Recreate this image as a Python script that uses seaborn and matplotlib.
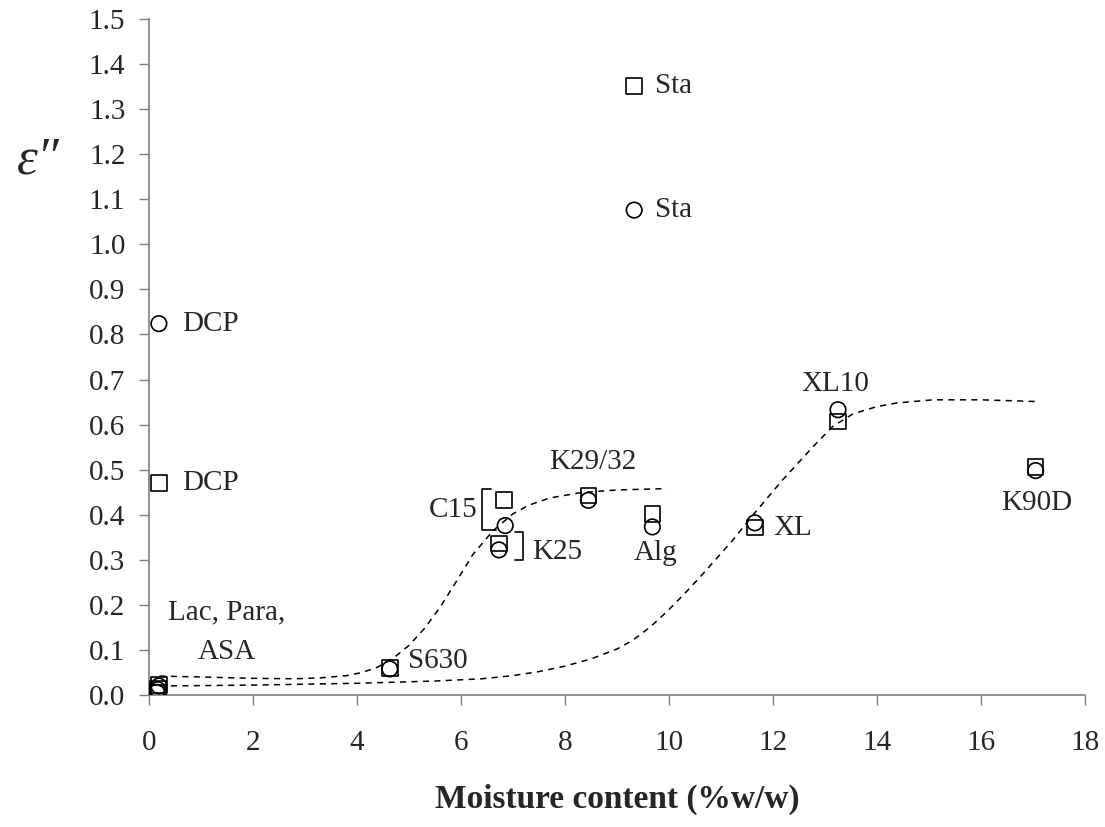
import numpy as np
import pandas as pd
import matplotlib
matplotlib.use("Agg")
import matplotlib.pyplot as plt
import seaborn as sns

# ---- data ----
labels = ["Sta", "DCP", "Lac", "Para", "ASA", "S630", "C15", "K25",
          "K29/32", "Alg", "XL", "XL10", "K90D"]
sq_x = [9.33, 0.19, 0.15, 0.17, 0.19, 4.63, 6.83, 6.73, 8.45, 9.68, 11.65, 13.25, 17.05]
sq_y = [1.351, 0.471, 0.004, 0.013, 0.022, 0.060, 0.433, 0.336, 0.443, 0.402, 0.372, 0.607, 0.506]
ci_x = [9.33, 0.19, 0.15, 0.17, 0.19, 4.63, 6.85, 6.73, 8.45, 9.68, 11.65, 13.25, 17.05]
ci_y = [1.076, 0.824, 0.006, 0.012, 0.020, 0.058, 0.376, 0.322, 0.432, 0.373, 0.382, 0.633, 0.498]

curve1_x = [0.2, 1.0, 2.0, 2.8, 3.3, 3.8, 4.1, 4.4, 4.7, 5.0, 5.3, 5.6, 5.9, 6.23, 6.62, 7.0,
            7.3, 7.7, 8.3, 9.0, 9.96]
curve1_y = [0.042, 0.040, 0.037, 0.036, 0.038, 0.043, 0.050, 0.062, 0.082, 0.110, 0.148, 0.195,
            0.250, 0.312, 0.365, 0.402, 0.421, 0.437, 0.449, 0.455, 0.458]
curve2_x = [0.2, 2.0, 4.0, 5.5, 6.4, 7.0, 7.5, 8.0, 8.5, 9.0, 9.31, 9.65, 9.96, 10.3, 10.6,
            11.23, 11.62, 12.19, 12.77, 13.15, 13.54, 14.0, 14.38, 15.08, 16.0, 17.13]
curve2_y = [0.020, 0.022, 0.026, 0.031, 0.036, 0.043, 0.052, 0.064, 0.080, 0.102, 0.122, 0.152,
            0.185, 0.225, 0.262, 0.344, 0.400, 0.478, 0.551, 0.596, 0.624, 0.640, 0.648, 0.655,
            0.655, 0.651]

x_ticks = [0, 2, 4, 6, 8, 10, 12, 14, 16, 18]
y_ticks = [round(0.1 * i, 1) for i in range(16)]

# ---- style ----
sns.set_style("ticks")
plt.rcParams["font.family"] = ["Liberation Serif", "DejaVu Serif"]

fig = plt.figure(figsize=(11.05, 8.27), dpi=100)
ax = fig.add_axes([149 / 1105, 1 - 695 / 827, (1085 - 149) / 1105, (695 - 19) / 827])

lw = 1.1
sns.lineplot(x=curve1_x, y=curve1_y, ax=ax, sort=False, color="black",
             linewidth=lw, linestyle=(0, (4, 3.5)), estimator=None)
sns.lineplot(x=curve2_x, y=curve2_y, ax=ax, sort=False, color="black",
             linewidth=lw, linestyle=(0, (4, 3.5)), estimator=None)

sns.scatterplot(x=sq_x, y=sq_y, ax=ax, marker="s", s=125, facecolors="none",
                edgecolor="black", linewidth=1.2, zorder=3)
sns.scatterplot(x=ci_x, y=ci_y, ax=ax, marker="o", s=125, facecolors="none",
                edgecolor="black", linewidth=1.2, zorder=4)

ax.set_xlim(0, 18)
ax.set_ylim(0, 1.5)
ax.set_xticks(x_ticks)
ax.set_yticks(y_ticks)
ax.set_yticklabels([f"{v:.1f}" for v in y_ticks])
ax.tick_params(axis="both", direction="out", length=7, width=1,
               color="#7f7f7f", labelsize=21)
ax.tick_params(axis="x", pad=18)
ax.tick_params(axis="y", pad=10)
for side in ["top", "right"]:
    ax.spines[side].set_visible(False)
for side in ["left", "bottom"]:
    ax.spines[side].set_color("#7f7f7f")
    ax.spines[side].set_linewidth(1.2)

ax.set_xlabel("Moisture content (%w/w)", fontsize=24, fontweight="bold", labelpad=20)
fig.text(38 / 1105, 1 - 160 / 827, "ε″", fontsize=38, style="italic",
         ha="center", va="center")

fs = 21
ax.text(9.73, 1.351, "Sta", fontsize=fs, ha="left", va="center")
ax.text(9.73, 1.076, "Sta", fontsize=fs, ha="left", va="center")
ax.text(0.63, 0.824, "DCP", fontsize=fs, ha="left", va="center")
ax.text(0.63, 0.471, "DCP", fontsize=fs, ha="left", va="center")
ax.text(1.5, 0.184, "Lac, Para,", fontsize=fs, ha="center", va="center")
ax.text(1.5, 0.095, "ASA", fontsize=fs, ha="center", va="center")
ax.text(4.98, 0.076, "S630", fontsize=fs, ha="left", va="center")
ax.text(6.31, 0.411, "C15", fontsize=fs, ha="right", va="center")
ax.text(7.37, 0.318, "K25", fontsize=fs, ha="left", va="center")
ax.text(8.54, 0.516, "K29/32", fontsize=fs, ha="center", va="center")
ax.text(9.75, 0.315, "Alg", fontsize=fs, ha="center", va="center")
ax.text(12.0, 0.371, "XL", fontsize=fs, ha="left", va="center")
ax.text(13.19, 0.689, "XL10", fontsize=fs, ha="center", va="center")
ax.text(17.08, 0.427, "K90D", fontsize=fs, ha="center", va="center")

# brackets
ax.plot([6.58, 6.40, 6.40, 6.68], [0.456, 0.456, 0.367, 0.367], color="black", lw=1.2)
ax.plot([7.04, 7.19, 7.19, 7.04], [0.362, 0.362, 0.300, 0.300], color="black", lw=1.2)

fig.savefig("out.png", dpi=100)
